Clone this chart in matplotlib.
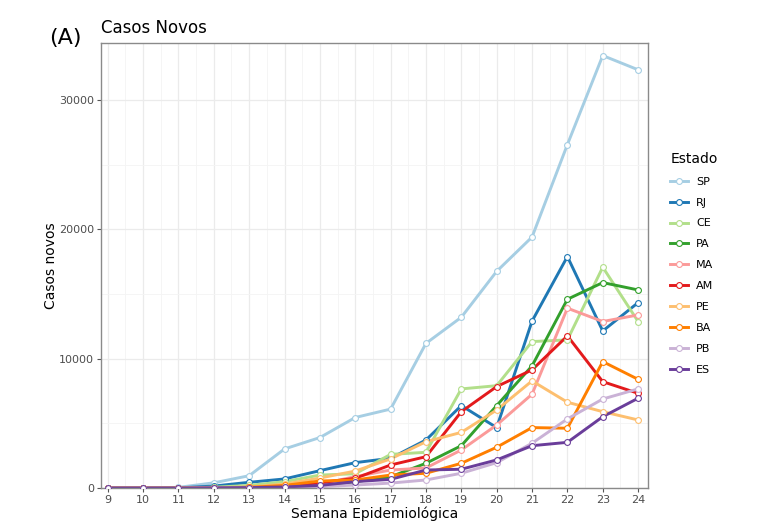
import matplotlib.pyplot as plt
from matplotlib.lines import Line2D
from matplotlib.ticker import MultipleLocator

# Casos novos por semana epidemiológica
semanas = list(range(9, 25))
estados = ['SP', 'RJ', 'CE', 'PA', 'MA', 'AM', 'PE', 'BA', 'PB', 'ES']
cores = ['#A6CEE3', '#1F78B4', '#B2DF8A', '#33A02C', '#FB9A99',
         '#E31A1C', '#FDBF6F', '#FF7F00', '#CAB2D6', '#6A3D9A']

sp = [0, 0, 50, 400, 950, 3020, 3900, 5450, 6100, 11180, 13200, 16750, 19400, 26550, 33430, 32330]
rj = [0, 0, 10, 150, 440, 700, 1340, 1960, 2300, 3710, 6370, 4670, 12900, 17890, 12140, 14330]
ce = [0, 0, 5, 60, 200, 490, 1000, 1100, 2600, 2760, 7660, 7910, 11320, 11450, 17070, 12870]
pa = [0, 0, 0, 10, 30, 60, 150, 490, 870, 1910, 3270, 6370, 9440, 14590, 15880, 15310]
ma = [0, 0, 0, 10, 40, 120, 300, 880, 1390, 1550, 2940, 4870, 7250, 13900, 12870, 13380]
am = [0, 0, 0, 10, 50, 150, 410, 750, 1780, 2420, 5900, 7840, 9130, 11760, 8220, 7320]
pe = [0, 0, 0, 20, 80, 300, 770, 1310, 2250, 3580, 4300, 6030, 8280, 6630, 5900, 5260]
ba = [0, 0, 0, 10, 50, 200, 540, 620, 1000, 1140, 1910, 3150, 4670, 4620, 9770, 8400]
pb = [0, 0, 0, 5, 20, 50, 100, 230, 380, 620, 1140, 1960, 3460, 5340, 6880, 7660]
es = [0, 0, 0, 10, 30, 80, 200, 490, 670, 1390, 1450, 2170, 3270, 3530, 5510, 6940]
casos = [sp, rj, ce, pa, ma, am, pe, ba, pb, es]

fig = plt.figure(figsize=(7.77, 5.29), dpi=100)
ax = fig.add_axes([0.130, 0.0775, 0.704, 0.8412])

for i, (uf, serie) in enumerate(zip(estados, casos)):
    ax.plot(semanas, serie, color=cores[i], lw=2.1, zorder=2 + i * 0.01)
for i, serie in enumerate(casos):
    ax.plot(semanas, serie, ls='none', marker='o', ms=4.2, mfc='white',
            mec=cores[i], mew=0.8, zorder=3 + i * 0.01)

ax.set_xlim(8.81, 24.28)
ax.set_ylim(0, 34400)
ax.set_xticks(semanas)
ax.set_yticks([0, 10000, 20000, 30000])
ax.xaxis.set_minor_locator(MultipleLocator(0.5))
ax.yaxis.set_minor_locator(MultipleLocator(5000))
ax.grid(which='major', color='#EBEBEB', lw=0.9)
ax.grid(which='minor', color='#F4F4F4', lw=0.6)
ax.set_axisbelow(True)
for s in ax.spines.values():
    s.set_color('#8A8A8A')
    s.set_linewidth(1.0)
ax.tick_params(which='major', length=3, color='#555555', labelsize=8,
               labelcolor='#4D4D4D', pad=2)
ax.tick_params(which='minor', length=0)

ax.set_xlabel('Semana Epidemiológica', fontsize=10, labelpad=1)
ax.set_ylabel('Casos novos', fontsize=10, labelpad=1)
ax.set_title('Casos Novos', fontsize=12, loc='left', pad=7)
fig.text(0.063, 0.928, '(A)', fontsize=16, ha='left', va='center')

handles = [Line2D([], [], color=c, lw=2.1, marker='o', ms=4.2, mfc='white',
                  mec=c, mew=0.8) for c in cores]
leg = fig.legend(handles, estados, loc='upper left', bbox_to_anchor=(0.85, 0.732),
                 frameon=False, title='Estado', fontsize=8, title_fontsize=10,
                 handlelength=1.6, handletextpad=0.7, labelspacing=0.98)
leg._legend_box.align = 'left'

fig.savefig('out.png', dpi=100)
